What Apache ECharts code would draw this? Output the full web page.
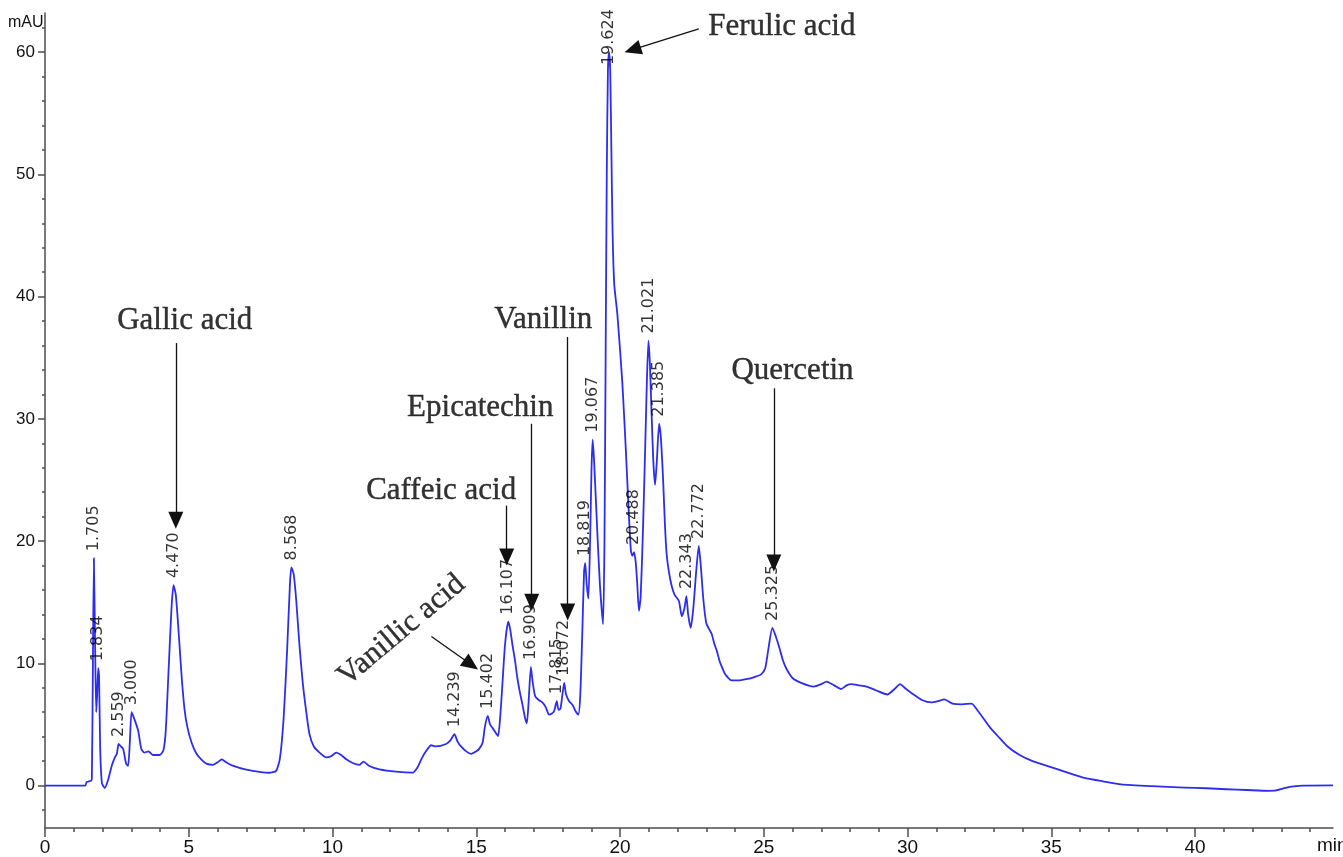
<!DOCTYPE html>
<html>
<head>
<meta charset="utf-8">
<title>HPLC chromatogram</title>
<script src="https://cdn.jsdelivr.net/npm/echarts@6/dist/echarts.min.js"></script>
<style>
  html, body { margin: 0; padding: 0; background: #fff; }
  #chart { width: 1343px; height: 857px; }
</style>
</head>
<body>
<div id="chart"></div>
<script>
  // trace: retention time (min) and signal (mAU)
  const timeMin = [
    0, 1.4, 1.45, 1.6, 1.63, 1.66, 1.70, 1.74, 1.78, 1.81, 1.85, 1.88, 1.92, 1.98, 2.08,
    2.2, 2.32, 2.43, 2.5, 2.56, 2.64, 2.72, 2.82, 2.89, 2.95, 3.01, 3.1, 3.24, 3.35, 3.45,
    3.6, 3.75, 3.99, 4.12, 4.2, 4.3, 4.4, 4.47, 4.55, 4.65, 4.75, 4.85, 4.95, 5.1, 5.27,
    5.45, 5.61, 5.85, 6.0, 6.15, 6.3, 6.5, 7.0, 7.5, 7.8, 8.04, 8.17, 8.3, 8.42, 8.52,
    8.57, 8.65, 8.74, 8.85, 8.97, 9.1, 9.2, 9.35, 9.55, 9.78, 9.95, 10.13, 10.3, 10.48, 10.7,
    10.94, 11.08, 11.28, 11.63, 12.21, 12.79, 12.96, 13.1, 13.25, 13.43, 13.6, 13.95, 14.1, 14.24, 14.35,
    14.47, 14.65, 14.82, 15.0, 15.1, 15.22, 15.3, 15.4, 15.48, 15.57, 15.68, 15.76, 15.83, 15.91, 16.0,
    16.11, 16.18, 16.26, 16.35, 16.43, 16.52, 16.61, 16.7, 16.76, 16.82, 16.9, 16.96, 17.05, 17.17, 17.3,
    17.42, 17.53, 17.63, 17.71, 17.8, 17.86, 17.93, 18.0, 18.06, 18.12, 18.23, 18.35, 18.45, 18.55, 18.62,
    18.69, 18.75, 18.79, 18.84, 18.9, 18.96, 19.01, 19.05, 19.1, 19.21, 19.3, 19.41, 19.46, 19.5, 19.54,
    19.58, 19.62, 19.66, 19.7, 19.74, 19.8, 19.91, 20.08, 20.2, 20.31, 20.38, 20.43, 20.49, 20.55, 20.6,
    20.66, 20.72, 20.8, 20.88, 20.94, 20.99, 21.04, 21.1, 21.16, 21.22, 21.28, 21.36, 21.42, 21.5, 21.56,
    21.62, 21.7, 21.8, 21.9, 22.05, 22.15, 22.24, 22.31, 22.37, 22.46, 22.55, 22.65, 22.74, 22.81, 22.9,
    23.0, 23.1, 23.19, 23.28, 23.37, 23.45, 23.51, 23.66, 23.88, 24.1, 24.39, 24.7, 24.91, 25.05, 25.15,
    25.3, 25.42, 25.54, 25.66, 25.78, 26.0, 26.3, 26.74, 27.0, 27.18, 27.45, 27.69, 27.88, 28.05, 28.3,
    28.57, 28.9, 29.3, 29.55, 29.74, 29.95, 30.18, 30.5, 30.84, 31.05, 31.28, 31.57, 31.9, 32.23, 32.45,
    32.67, 32.89, 33.2, 33.48, 33.9, 34.35, 34.8, 35.23, 35.7, 36.11, 36.8, 37.43, 38.5, 39.63, 40.4,
    41.09, 41.8, 42.56, 42.78, 43.05, 43.29, 43.73, 44.8
  ];
  const signalMAU = [
    0, 0, 0.3, 0.4, 0.6, 8, 18.6, 12, 6.0, 7.2, 9.6, 9.0, 3, 0.2, -0.2,
    0.5, 1.6, 2.3, 2.6, 3.4, 3.2, 3.0, 1.8, 1.6, 3.5, 6.0, 5.5, 4.5, 3.0, 2.7,
    2.8, 2.5, 2.5, 2.9, 4.5, 9.5, 14.5, 16.4, 15.6, 12.5, 9.0, 6.3, 4.8, 3.5, 2.6,
    2.1, 1.8, 1.7, 1.9, 2.15, 1.9, 1.65, 1.3, 1.1, 1.05, 1.2, 2.2, 5.5, 11, 16.5,
    17.85, 17.3, 15.1, 11.5, 8.3, 5.8, 4.2, 3.2, 2.7, 2.3, 2.4, 2.7, 2.5, 2.15, 1.85,
    1.7, 1.96, 1.6, 1.33, 1.14, 1.06, 1.5, 2.2, 2.8, 3.3, 3.2, 3.4, 3.7, 4.2, 3.6,
    3.2, 2.8, 2.6, 2.8, 3.0, 3.5, 4.8, 5.7, 5.0, 4.7, 4.3, 4.05, 5.5, 8.3, 11.5,
    13.4, 12.8, 11.5, 10.2, 8.8, 7.6, 6.6, 5.5, 5.1, 6.8, 9.7, 8.5, 7.3, 7.0, 6.8,
    6.4, 5.8, 5.9, 6.1, 6.9, 6.2, 6.3, 7.5, 8.4, 7.5, 6.9, 6.6, 6.1, 5.8, 7.5,
    12.6, 17.5, 18.2, 16.5, 15.3, 20, 26, 28.3, 26.5, 20.8, 16.5, 13.2, 20, 35, 50,
    58.5, 60.0, 58.5, 52, 45.5, 41, 38.5, 33, 27.6, 22.1, 19.2, 18.8, 19.1, 18.2, 16.5,
    14.3, 15.5, 21, 28, 33.5, 36.4, 34.5, 30.3, 26.5, 24.6, 26.5, 29.6, 28.5, 25, 21.5,
    19, 17.5, 16.3, 15.6, 15.1, 13.85, 14.5, 15.5, 14, 12.9, 14.5, 17.5, 19.6, 18, 15.2,
    13.3, 12.8, 12.4, 11.6, 11.0, 10.3, 9.9, 9.1, 8.6, 8.6, 8.7, 8.9, 9.1, 9.6, 11,
    12.9, 12.2, 11.3, 10.3, 9.6, 8.8, 8.4, 8.1, 8.3, 8.5, 8.2, 7.9, 8.2, 8.3, 8.2,
    8.1, 7.8, 7.45, 7.9, 8.3, 7.9, 7.5, 7.0, 6.8, 6.9, 7.05, 6.7, 6.65, 6.7, 6.1,
    5.4, 4.7, 3.9, 3.2, 2.5, 2.0, 1.65, 1.33, 0.95, 0.65, 0.35, 0.1, -0.05, -0.16, -0.22,
    -0.3, -0.36, -0.43, -0.42, -0.25, -0.1, 0.0, 0.02
  ];

  // retention-time labels printed over the peaks
  const peakLabels = ['1.705', '1.834', '2.559', '3.000', '4.470', '8.568', '14.239', '15.402', '16.107', '16.909',
    '17.815', '18.072', '18.819', '19.067', '19.624', '20.488', '21.021', '21.385', '22.343', '22.772', '25.325'];
  const peakTime = [1.70, 1.85, 2.56, 3.01, 4.47, 8.57, 14.24, 15.40, 16.11, 16.90,
    17.80, 18.06, 18.79, 19.05, 19.62, 20.49, 20.99, 21.36, 22.31, 22.74, 25.30];
  const peakHeight = [18.6, 9.6, 3.4, 6.0, 16.4, 17.85, 4.2, 5.7, 13.4, 9.7,
    6.9, 8.4, 18.2, 28.3, 60.0, 19.1, 36.4, 29.6, 15.5, 19.6, 12.9];

  // compound names with their arrows (min, mAU)
  const compoundNames = ['Gallic acid', 'Vanillic acid', 'Caffeic acid', 'Epicatechin', 'Vanillin', 'Ferulic acid', 'Quercetin'];
  const compoundAt = [[4.86, 38.0], [12.4, 12.7], [13.78, 24.1], [15.14, 30.9], [17.33, 38.1], [25.63, 62.1], [26.0, 33.9]];
  const arrowFrom = [[4.55, 36.2], [13.44, 12.2], [16.06, 22.9], [16.93, 29.6], [18.18, 36.7], [22.74, 61.9], [25.35, 32.5]];
  const arrowTo = [[4.55, 21.7], [14.82, 9.9], [16.06, 18.7], [16.93, 15.0], [18.18, 14.2], [20.44, 60.2], [25.35, 18.2]];
  const compoundTilt = [0, 40, 0, 0, 0, 0, 0];

  // axis ticks
  const xLabelTicks = [0, 5, 10, 15, 20, 25, 30, 35, 40];
  const xMinorTicks = [0, 1, 2, 3, 4, 5, 6, 7, 8, 9, 10, 11, 12, 13, 14, 15, 16, 17, 18, 19, 20, 21, 22,
    23, 24, 25, 26, 27, 28, 29, 30, 31, 32, 33, 34, 35, 36, 37, 38, 39, 40, 41, 42, 43, 44];
  const yLabelTicks = [0, 10, 20, 30, 40, 50, 60];
  const yMinorTicks = [-2, 0, 2, 4, 6, 8, 10, 12, 14, 16, 18, 20, 22, 24, 26, 28, 30, 32, 34, 36, 38, 40,
    42, 44, 46, 48, 50, 52, 54, 56, 58, 60, 62];

  const X_MIN = 0, X_MAX = 44.8, Y_MIN = -3.47, Y_MAX = 63.2;
  const sans = '"Liberation Sans", Arial, sans-serif';
  const serif = '"Liberation Serif", "DejaVu Serif", serif';

  const chart = echarts.init(document.getElementById('chart'));

  let trace = [];
  for (let i = 0; i < timeMin.length; i++) {
    trace.push([timeMin[i], signalMAU[i]]);
  }

  let peaks = [];
  for (let i = 0; i < peakLabels.length; i++) {
    let item = { value: [peakTime[i], peakHeight[i]], name: peakLabels[i] };
    // the top label sits over the clipped main peak
    if (peakLabels[i] === '19.624') item.label = { distance: -13 };
    peaks.push(item);
  }

  let names = [];
  let arrows = [];
  for (let i = 0; i < compoundNames.length; i++) {
    names.push({ value: compoundAt[i], name: compoundNames[i], label: { rotate: compoundTilt[i] } });
    arrows.push([{ coord: arrowFrom[i] }, { coord: arrowTo[i] }]);
  }

  const axisLineStyle = { color: '#4d4d4d', width: 1.5 };

  let option = {
    animation: false,
    grid: { left: 45, right: 10, top: 13, bottom: 26, containLabel: false },
    xAxis: [
      {
        type: 'value', min: X_MIN, max: X_MAX,
        axisLine: { show: true, onZero: false, lineStyle: axisLineStyle },
        axisTick: { show: true, length: 9, customValues: xLabelTicks, lineStyle: axisLineStyle },
        axisLabel: { customValues: xLabelTicks, color: '#111', fontSize: 19, fontFamily: sans, margin: 10 },
        splitLine: { show: false }
      },
      {
        type: 'value', min: X_MIN, max: X_MAX, position: 'bottom',
        axisLine: { show: false, onZero: false },
        axisTick: { show: true, length: 4, customValues: xMinorTicks, lineStyle: axisLineStyle },
        axisLabel: { show: false },
        splitLine: { show: false }
      }
    ],
    yAxis: [
      {
        type: 'value', min: Y_MIN, max: Y_MAX,
        axisLine: { show: true, onZero: false, lineStyle: axisLineStyle },
        axisTick: { show: true, length: 7, customValues: yLabelTicks, lineStyle: axisLineStyle },
        axisLabel: { customValues: yLabelTicks, color: '#111', fontSize: 17, fontFamily: sans, margin: 10 },
        splitLine: { show: false }
      },
      {
        type: 'value', min: Y_MIN, max: Y_MAX, position: 'left',
        axisLine: { show: false, onZero: false },
        axisTick: { show: true, length: 3, customValues: yMinorTicks, lineStyle: axisLineStyle },
        axisLabel: { show: false },
        splitLine: { show: false }
      }
    ],
    graphic: [
      { type: 'text', left: 8, top: 15, style: { text: 'mAU', fontSize: 16, fontFamily: sans, fill: '#111' } },
      { type: 'text', left: 1317, top: 836, style: { text: 'min', fontSize: 19, fontFamily: sans, fill: '#111' } }
    ],
    series: [
      {
        name: 'signal',
        type: 'line',
        data: trace,
        showSymbol: false,
        smooth: 0.2,
        lineStyle: { color: '#2d2df0', width: 1.8, join: 'round' },
        z: 2,
        markLine: {
          silent: true,
          symbol: ['none', 'triangle'],
          symbolSize: [15, 17],
          label: { show: false },
          lineStyle: { color: '#111', width: 1.3, type: 'solid' },
          data: arrows
        }
      },
      {
        name: 'peak labels',
        type: 'scatter',
        data: peaks,
        symbolSize: 0,
        silent: true,
        z: 3,
        label: {
          show: true,
          formatter: '{b}',
          position: 'top',
          distance: 7,
          rotate: 90,
          align: 'left',
          verticalAlign: 'middle',
          color: '#000',
          fontSize: 16,
          fontFamily: '"DejaVu Sans", sans-serif'
        }
      },
      {
        name: 'compounds',
        type: 'scatter',
        data: names,
        symbolSize: 0,
        silent: true,
        z: 3,
        label: {
          show: true,
          formatter: '{b}',
          position: 'inside',
          align: 'center',
          verticalAlign: 'middle',
          color: '#000',
          textBorderColor: '#000',
          textBorderWidth: 0.4,
          fontSize: 31,
          fontFamily: serif
        }
      }
    ]
  };

  chart.setOption(option);
  window.addEventListener('resize', function () {
    chart.resize();
  });
</script>
</body>
</html>
